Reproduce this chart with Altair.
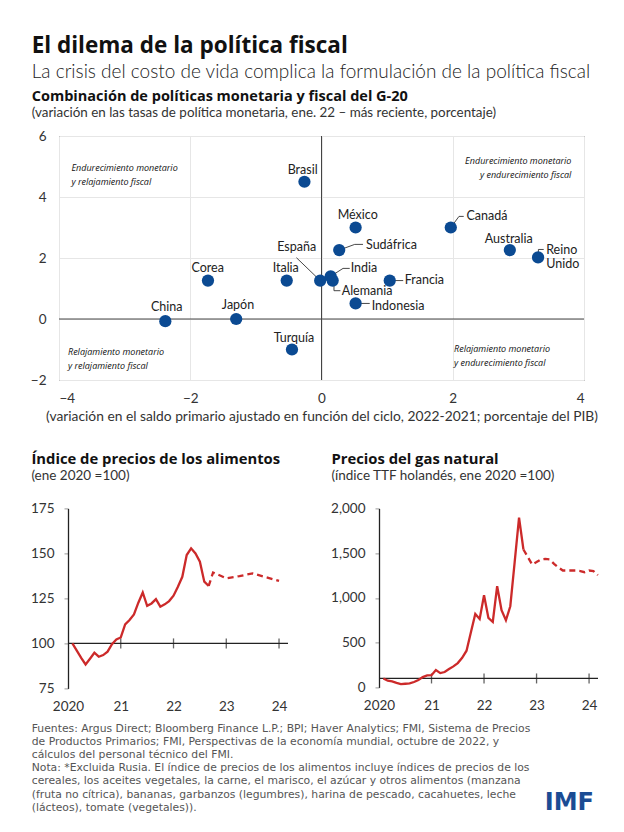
import altair as alt
import pandas as pd

# ---------------- Datos: combinación de políticas del G-20 ----------------
paises = ["Brasil", "México", "Canadá", "Sudáfrica", "Australia", "Reino Unido",
          "India", "Alemania", "España", "Francia", "Indonesia", "Italia",
          "Corea", "China", "Japón", "Turquía"]
saldo_fiscal = [-0.26, 0.52, 1.97, 0.27, 2.87, 3.30, 0.14, 0.17, -0.02, 1.04,
                0.52, -0.53, -1.73, -2.38, -1.30, -0.45]
tasa_monetaria = [4.50, 3.00, 3.00, 2.26, 2.26, 2.02, 1.40, 1.26, 1.26, 1.26,
                  0.51, 1.26, 1.26, -0.07, 0.00, -1.00]

# Etiquetas de países (anotaciones, en unidades de datos)
etq_centro = ["Brasil", "México", "Australia", "España", "Italia", "Corea",
              "China", "Japón", "Turquía"]
etq_centro_x = [-0.287, 0.552, 2.853, -0.378, -0.545, -1.734, -2.359, -1.272, -0.419]
etq_centro_y = [4.895, 3.41, 2.61, 2.37, 1.66, 1.66, 0.403, 0.459, -0.636]
etq_izq = ["Canadá", "Sudáfrica", "India", "Alemania", "Francia", "Indonesia",
           "Reino\nUnido"]
etq_izq_x = [2.208, 0.678, 0.445, 0.308, 1.268, 0.765, 3.424]
etq_izq_y = [3.39, 2.426, 1.66, 0.928, 1.279, 0.426, 2.272]

# Líneas guía de etiquetas (x, y, x2, y2)
guia_x = [-0.382, 0.14, 0.328, 0.19, 0.19, 0.27, 0.506, 1.97, 2.095, 1.04, 0.52, 3.305, 3.305]
guia_y = [2.01, 1.40, 1.659, 1.26, 0.928, 2.26, 2.446, 3.0, 3.364, 1.26, 0.51, 2.10, 2.28]
guia_x2 = [-0.02, 0.328, 0.43, 0.19, 0.288, 0.506, 0.632, 2.095, 2.167, 1.245, 0.735, 3.305, 3.386]
guia_y2 = [1.26, 1.659, 1.659, 0.928, 0.928, 2.446, 2.446, 3.364, 3.364, 1.26, 0.51, 2.28, 2.28]

# Cuadrantes
cuad_izq = ["Endurecimiento monetario\ny relajamiento fiscal",
            "Relajamiento monetario\ny relajamiento fiscal",
            "Relajamiento monetario\ny endurecimiento fiscal"]
cuad_izq_x = [-3.811, -3.863, 2.019]
cuad_izq_y = [4.951, -1.082, -0.99]
cuad_der = ["Endurecimiento monetario\ny endurecimiento fiscal"]
cuad_der_x = [3.808]
cuad_der_y = [5.167]

# ---------------- Datos: alimentos y gas (mes 1 = ene 2020) ----------------
meses_alim = list(range(1, 33))
alimentos = [100, 96, 92, 88.3, 91.5, 94.8, 92.6, 93.5, 95.4, 99.6, 102.2, 103.3,
             110.6, 113, 116.1, 122.6, 128.3, 120.9, 122.2, 124.6, 120.4, 121.7, 123.5, 126.5,
             131.5, 137, 149.1, 152.8, 150, 145.4, 134.3, 131.9]
meses_alim_proy = [32, 33, 36, 39, 42, 45, 48]
alimentos_proy = [131.9, 139.4, 136.2, 137.4, 138.9, 136.8, 134.7]

meses_gas = list(range(1, 34))
gas = [100, 75, 67, 50, 37, 41, 44, 60, 82, 115, 134, 136,
       194, 160, 172, 205, 235, 272, 330, 410, 615, 821, 765, 1030,
       776, 731, 1131, 862, 750, 907, 1400, 1896, 1541]
meses_gas_proy = list(range(33, 51))
gas_proy = [1541, 1457, 1373, 1400, 1429, 1435, 1429, 1380, 1340, 1306,
            1306, 1306, 1306, 1300, 1287, 1306, 1300, 1254]

anios = [2020, 2021, 2022, 2023, 2024]
marcas = [2021, 2022, 2023, 2024]

titulo = "El dilema de la política fiscal"
subtitulo = "La crisis del costo de vida complica la formulación de la política fiscal"
t_sc = "Combinación de políticas monetaria y fiscal del G-20"
st_sc = "(variación en las tasas de política monetaria, ene. 22 – más reciente, porcentaje)"
x_titulo = "(variación en el saldo primario ajustado en función del ciclo, 2022-2021; porcentaje del PIB)"
t_alim = "Índice de precios de los alimentos"
st_alim = "(ene 2020 =100)"
t_gas = "Precios del gas natural"
st_gas = "(índice TTF holandés, ene 2020 =100)"
pie = ("Fuentes: Argus Direct; Bloomberg Finance L.P.; BPI; Haver Analytics; FMI, Sistema de Precios\n"
       "de Productos Primarios; FMI, Perspectivas de la economía mundial, octubre de 2022, y\n"
       "cálculos del personal técnico del FMI.\n"
       "Nota: *Excluida Rusia. El índice de precios de los alimentos incluye índices de precios de los\n"
       "cereales, los aceites vegetales, la carne, el marisco, el azúcar y otros alimentos (manzana\n"
       "(fruta no cítrica), bananas, garbanzos (legumbres), harina de pescado, cacahuetes, leche\n"
       "(lácteos), tomate (vegetales)).")

# ---------------- Estilo ----------------
FONT = "Lato"
HEAD = "Open Sans"
INK = "#222222"
AX = "#333333"
BLUE = "#0b4a92"
RED = "#cc2a2a"


def txt(text, x, y, size, weight="normal", color=INK, font=FONT, lh=None):
    return alt.Chart(pd.DataFrame({"t": [text]})).mark_text(
        align="left", baseline="alphabetic", font=font, fontSize=size,
        fontWeight=weight, color=color, lineBreak="\n",
        lineHeight=lh if lh else size * 1.2
    ).encode(x=alt.value(x), y=alt.value(y), text="t:N")


# ---------------- Dispersión ----------------
xs = alt.Scale(domain=[-4, 4], nice=False, zero=False)
ys = alt.Scale(domain=[-2, 6], nice=False, zero=False)
sx_ax = alt.Axis(
    values=[-4, -2, 0, 2, 4], grid=True, gridColor="#e6e6e6", domain=False,
    ticks=False, labelPadding=11, labelFontSize=13.5, labelColor=AX,
    labelFont=FONT, title=x_titulo, titleFont=FONT, titleFontSize=13.8,
    titleFontWeight="normal", titleColor=AX, titlePadding=5)
sy_ax = alt.Axis(
    values=[-2, 0, 2, 4, 6], grid=True, gridColor="#e6e6e6", domain=False,
    ticks=False, labelPadding=13, labelFontSize=13.5, labelColor=AX,
    labelFont=FONT, title=None)
SX = alt.X("x:Q", scale=xs, axis=sx_ax)
SY = alt.Y("y:Q", scale=ys, axis=sy_ax)

sc_df = pd.DataFrame({"pais": paises, "x": saldo_fiscal, "y": tasa_monetaria})

puntos = alt.Chart(sc_df).mark_circle(size=150, color=BLUE, opacity=1).encode(x=SX, y=SY)

cero_v = alt.Chart(pd.DataFrame({"x": [0]})).mark_rule(color="#444", strokeWidth=1).encode(x=SX)
cero_h = alt.Chart(pd.DataFrame({"y": [0]})).mark_rule(color="#444", strokeWidth=1).encode(y=SY)

guias = alt.Chart(pd.DataFrame({"x": guia_x, "y": guia_y, "x2": guia_x2, "y2": guia_y2})).mark_rule(
    color="#333", strokeWidth=0.9).encode(x=SX, y=SY, x2="x2:Q", y2="y2:Q")

lab_c = alt.Chart(pd.DataFrame({"l": etq_centro, "x": etq_centro_x, "y": etq_centro_y})).mark_text(
    align="center", baseline="middle", font=FONT, fontSize=12.5, color=INK).encode(
    x=SX, y=SY, text="l:N")
lab_i = alt.Chart(pd.DataFrame({"l": etq_izq, "x": etq_izq_x, "y": etq_izq_y})).mark_text(
    align="left", baseline="middle", font=FONT, fontSize=12.5, color=INK,
    lineBreak="\n", lineHeight=14).encode(x=SX, y=SY, text="l:N")

q_i = alt.Chart(pd.DataFrame({"l": cuad_izq, "x": cuad_izq_x, "y": cuad_izq_y})).mark_text(
    align="left", baseline="middle", font=HEAD, fontSize=9, fontStyle="italic",
    color="#111", lineBreak="\n", lineHeight=14).encode(x=SX, y=SY, text="l:N")
q_d = alt.Chart(pd.DataFrame({"l": cuad_der, "x": cuad_der_x, "y": cuad_der_y})).mark_text(
    align="right", baseline="middle", font=HEAD, fontSize=9, fontStyle="italic",
    color="#111", lineBreak="\n", lineHeight=14).encode(x=SX, y=SY, text="l:N")

scatter = alt.layer(
    cero_v, cero_h, guias, puntos, lab_c, lab_i, q_i, q_d,
    txt(titulo, -27.3, -82.6, 22.5, "bold", "#111", font=HEAD),
    txt(subtitulo, -27.3, -57.6, 19, 300, "#222"),
    txt(t_sc, -27.3, -34.8, 14.5, "bold", "#111", font=HEAD),
    txt(st_sc, -27.3, -18.8, 13.4, "normal", "#333"),
).properties(width=525, height=244, view=alt.ViewBackground(stroke="#444", strokeWidth=1))

# ---------------- Paneles inferiores ----------------
tx = alt.Scale(domain=[2020, 2024.17], nice=False, zero=False)
x_ax = alt.Axis(values=anios, labelExpr="datum.value == 2020 ? '2020' : slice(toString(datum.value), 2)",
                domain=False, ticks=False, grid=False, labelPadding=11, labelFontSize=13.5,
                labelColor=AX, labelFont=FONT, labelFlush=False, title=None)


def y_ax(vals, fmt):
    return alt.Axis(values=vals, format=fmt, domain=True, domainColor="#222", domainWidth=1.3,
                    ticks=True, tickSize=4, tickColor="#999", grid=False, labelPadding=10,
                    labelFontSize=13.5, labelColor=AX, labelFont=FONT, title=None)


def panel(meses, vals, meses_p, vals_p, yscale, yaxis, extra):
    PX = alt.X("t:Q", scale=tx, axis=x_ax)
    PY = alt.Y("v:Q", scale=yscale, axis=yaxis)
    d = pd.DataFrame({"t": [2020 + k / 12 for k in meses], "v": vals})
    dp = pd.DataFrame({"t": [2020 + k / 12 for k in meses_p], "v": vals_p})
    base = alt.Chart(pd.DataFrame({"v": [100]})).mark_rule(color="#222", strokeWidth=1.2).encode(y=PY)
    tk = alt.Chart(pd.DataFrame({"t": marcas, "v": [100] * len(marcas)})).mark_tick(
        orient="vertical", size=10, thickness=1.3, color="#222").encode(x=PX, y=PY)
    ln = alt.Chart(d).mark_line(color=RED, strokeWidth=2.3).encode(x=PX, y=PY)
    lp = alt.Chart(dp).mark_line(color=RED, strokeWidth=2.3, strokeDash=[6, 4]).encode(x=PX, y=PY)
    return alt.layer(base, tk, ln, lp, *extra)


food = panel(meses_alim, alimentos, meses_alim_proy, alimentos_proy,
             alt.Scale(domain=[75, 175], nice=False, zero=False),
             y_ax([75, 100, 125, 150, 175], ",.0f"),
             [txt(t_alim, -36.6, -44.5, 14.8, "bold", "#111", font=HEAD),
              txt(st_alim, -36.6, -28.5, 13.5, "normal", "#333"),
              txt(pie, -36.3, 223.3, 10.8, "normal", "#555", font="DejaVu Sans", lh=13.2)]
             ).properties(width=220, height=180)

gasc = panel(meses_gas, gas, meses_gas_proy, gas_proy,
             alt.Scale(domain=[0, 2000], nice=False, zero=False),
             y_ax([0, 500, 1000, 1500, 2000], ",.0f"),
             [txt(t_gas, -47.6, -44.5, 14.8, "bold", "#111", font=HEAD),
              txt(st_gas, -47.6, -28.5, 13.5, "normal", "#333"),
              txt("IMF", 165.7, 301.3, 24, "bold", "#1b4c94", font="DejaVu Sans")]
             ).properties(width=219, height=179)

spacer = alt.Chart(pd.DataFrame({"t": [""]})).mark_text().encode(
    text="t:N", x=alt.value(0), y=alt.value(0)).properties(width=1, height=1)

bottom = alt.hconcat(spacer, alt.hconcat(food, gasc, spacing=91, bounds="flush"),
                     spacing=8, bounds="flush")

chart = alt.vconcat(scatter, bottom, spacing=128.4, bounds="flush").properties(
    padding={"left": 21, "top": 26, "right": 4, "bottom": 4},
    background="white",
).configure_view(stroke=None)

chart.save("out.html", embed_options={"renderer": "svg", "actions": False})
